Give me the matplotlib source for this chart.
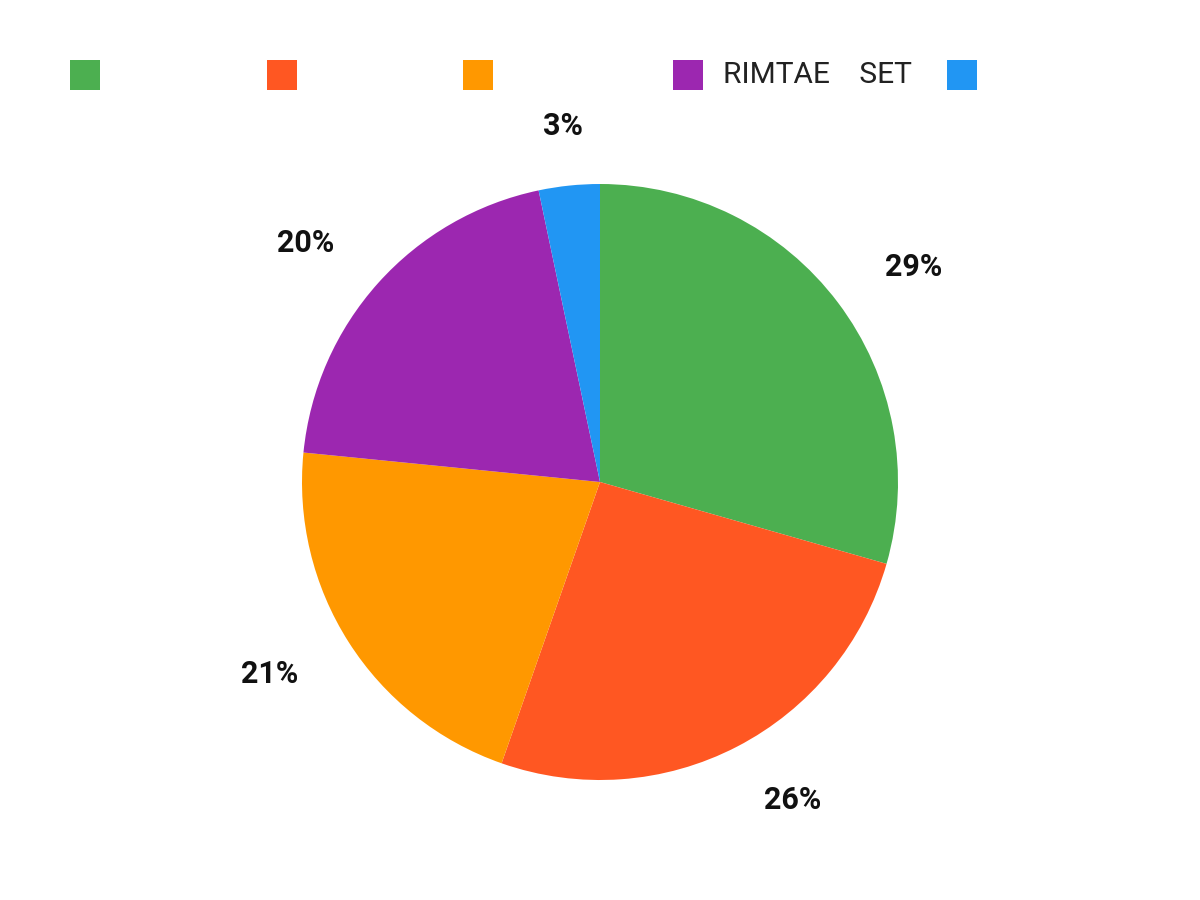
import matplotlib
matplotlib.use("Agg")
import matplotlib.pyplot as plt
from matplotlib.patches import Rectangle

plt.rcParams['font.family'] = ['Roboto', 'DejaVu Sans']

# données du graphique
valeurs = [29.4, 25.9, 21.2, 20.1, 3.3]
etiquettes_pct = ["29%", "26%", "21%", "20%", "3%"]
legende = ["", "", "", "RIMTAE    SET", ""]
couleurs = ["#4caf50", "#ff5722", "#ff9800", "#9c27b0", "#2196f3"]

fig = plt.figure(figsize=(12, 9), dpi=100)

# axe du camembert (centre ~ (600, 482), rayon ~ 298 px)
ax = fig.add_axes([302 / 1200, (900 - 482 - 298) / 900, 596 / 1200, 596 / 900])
wedges, textes = ax.pie(valeurs, colors=couleurs, startangle=90, counterclock=False,
                        radius=1, labels=etiquettes_pct, labeldistance=1.2,
                        wedgeprops=dict(linewidth=0),
                        textprops=dict(fontsize=22, fontweight='bold', color='#111111'))
# la petite part du haut est centrée
textes[-1].set_horizontalalignment('center')
ax.set_xlim(-1, 1)
ax.set_ylim(-1, 1)
ax.set_aspect('equal')
ax.axis('off')

# légende dessinée à la main en haut
x_carres = [70, 267, 463, 673, 947]
for x, c, lab in zip(x_carres, couleurs, legende):
    fig.add_artist(Rectangle((x / 1200, 1 - 90 / 900), 30 / 1200, 30 / 900,
                             transform=fig.transFigure, color=c, linewidth=0))
    if lab:
        fig.text((x + 50) / 1200, 1 - 75 / 900, lab, ha='left', va='center',
                 fontsize=21.5, color='#222222')

fig.savefig("out.png", dpi=100)
